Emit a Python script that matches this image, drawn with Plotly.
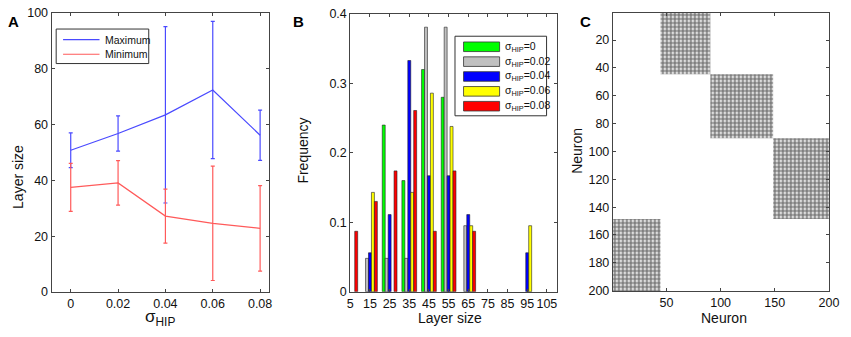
import plotly.graph_objects as go

# ---------------- Data ----------------
# Panel A: layer size vs sigma_HIP
sigma_hip = [0, 0.02, 0.04, 0.06, 0.08]
sigma_labels = ["0", "0.02", "0.04", "0.06", "0.08"]
max_mean = [50.8, 56.8, 63.5, 72.4, 56.2]
max_err = [6.2, 6.3, 31.6, 24.6, 9.0]
min_mean = [37.5, 39.1, 27.2, 24.6, 22.8]
min_err = [8.6, 8.0, 9.7, 20.5, 15.3]

# Panel B: frequency histogram of layer sizes
layer_bins = [5, 15, 25, 35, 45, 55, 65, 75, 85, 95, 105]
freq_s000 = [0, 0, 0.24, 0.16, 0.32, 0.28, 0, 0, 0, 0, 0]
freq_s002 = [0, 0.048, 0.048, 0.048, 0.381, 0.381, 0.095, 0, 0, 0, 0]
freq_s004 = [0, 0.056, 0.111, 0.333, 0.167, 0.167, 0.111, 0, 0, 0.056, 0]
freq_s006 = [0, 0.143, 0, 0.143, 0.286, 0.238, 0.095, 0, 0, 0.095, 0]
freq_s008 = [0.087, 0.130, 0.174, 0.261, 0.087, 0.174, 0.087, 0, 0, 0, 0]
series_names = ["0", "0.02", "0.04", "0.06", "0.08"]
series_colors = ["#00ff00", "#c0c0c0", "#0000ff", "#ffff00", "#ff0000"]

# Panel C: connectivity blocks (layer sizes, each layer projects to next)
layer_sizes = [44, 46, 58, 52]

# ---------------- Helpers ----------------
W, H = 851, 337
def px(x):
    return x / W
def py(y):
    return 1 - y / H

FONT = "Liberation Sans, Arial, sans-serif"
AXC = "#444444"
BLUE = "#4a4aff"
RED = "#ff5a5a"
TICK = 12.5
TITLE = 14

fig = go.Figure()

# Panel A traces
fig.add_trace(go.Scatter(
    x=sigma_hip, y=max_mean, mode="lines", name="Maximum",
    line=dict(color=BLUE, width=1.2),
    error_y=dict(type="data", array=max_err, color=BLUE, thickness=1.2, width=2),
    xaxis="x", yaxis="y", showlegend=False, hoverinfo="skip"))
fig.add_trace(go.Scatter(
    x=sigma_hip, y=min_mean, mode="lines", name="Minimum",
    line=dict(color=RED, width=1.2),
    error_y=dict(type="data", array=min_err, color=RED, thickness=1.2, width=2),
    xaxis="x", yaxis="y", showlegend=False, hoverinfo="skip"))

# Panel B traces (zero-height bars are not drawn)
for vals, nm, col in zip([freq_s000, freq_s002, freq_s004, freq_s006, freq_s008],
                         series_names, series_colors):
    fig.add_trace(go.Bar(
        x=layer_bins, y=[v if v > 0 else None for v in vals], name=nm,
        marker=dict(color=col, line=dict(color="#222222", width=0.6)),
        xaxis="x2", yaxis="y2", showlegend=False, hoverinfo="skip"))

# Panel C traces
edges = [0.5]
for s in layer_sizes:
    edges.append(edges[-1] + s)
n_layers = len(layer_sizes)
for k in range(n_layers):
    r0, r1 = edges[k], edges[k + 1]
    j = (k + 1) % n_layers
    c0, c1 = edges[j], edges[j + 1]
    fig.add_trace(go.Scatter(
        x=[c0, c1, c1, c0, c0], y=[r0, r0, r1, r1, r0], mode="lines",
        fill="toself", line=dict(width=0, color="rgba(0,0,0,0)"),
        fillcolor="white",
        fillpattern=dict(shape=".", fgcolor="black", bgcolor="white", size=4, solidity=0.7),
        xaxis="x3", yaxis="y3", showlegend=False, hoverinfo="skip"))

axis_common = dict(showline=True, linecolor=AXC, linewidth=1, mirror="ticks",
                   ticks="inside", ticklen=3, tickcolor=AXC, showgrid=False, zeroline=False,
                   tickangle=0, ticklabeloverflow="allow",
                   tickfont=dict(size=TICK, color="#111111", family=FONT))

fig.update_layout(
    width=W, height=H, margin=dict(l=0, r=0, t=0, b=0),
    paper_bgcolor="white", plot_bgcolor="white",
    font=dict(family=FONT, color="#111111"),
    barmode="group", bargap=0.25, bargroupgap=0,
    xaxis=dict(domain=[px(49.3), px(270)], range=[-0.0081, 0.0837],
               tickvals=sigma_hip, ticktext=sigma_labels, anchor="y", **axis_common),
    yaxis=dict(domain=[py(297.3), py(6.3)], range=[0, 100], tickvals=[0, 20, 40, 60, 80, 100],
               anchor="x", **axis_common),
    xaxis2=dict(domain=[px(352.7), px(562.3)], range=[5, 110], tickvals=layer_bins, anchor="y2",
                **axis_common),
    yaxis2=dict(domain=[py(297), py(7.3)], range=[0, 0.4], tickvals=[0, 0.1, 0.2, 0.3, 0.4],
                anchor="x2", **axis_common),
    xaxis3=dict(domain=[px(619.3), px(839.3)], range=[0.5, 200.5], tickvals=[50, 100, 150, 200],
                anchor="y3", **axis_common),
    yaxis3=dict(domain=[py(296.7), py(6.2)], range=[200.5, 0.5],
                tickvals=[20, 40, 60, 80, 100, 120, 140, 160, 180, 200],
                anchor="x3", **axis_common),
)

shapes = []
annotations = []

def label(text, x, y, size, angle=0, anchor="center"):
    annotations.append(dict(text=text, x=px(x), y=py(y), xref="paper", yref="paper",
                            xanchor=anchor, yanchor="middle", showarrow=False, textangle=angle,
                            font=dict(size=size, family=FONT, color="#111111")))

# Axis titles
label("σ<sub>HIP</sub>", 159, 324, 17)
label("Layer size", 14.5, 177, TITLE, angle=-90)
label("Layer size", 454, 324, TITLE)
label("Frequency", 304.5, 150, TITLE, angle=-90)
label("Neuron", 732, 324.5, TITLE)
label("Neuron", 583, 150, TITLE, angle=-90)

# Panel letters
for letter, x in [("A", 3), ("B", 292), ("C", 584)]:
    annotations.append(dict(text="<b>%s</b>" % letter, x=px(x), y=py(4), xref="paper", yref="paper",
                            xanchor="left", yanchor="top", showarrow=False,
                            font=dict(size=15, family=FONT, color="black")))

# Legend A
shapes.append(dict(type="rect", xref="paper", yref="paper", x0=px(54), x1=px(148), y0=py(59), y1=py(23),
                   line=dict(color="#333333", width=1), fillcolor="white", layer="above"))
for yy, nm, col in [(34, "Maximum", BLUE), (49.3, "Minimum", RED)]:
    shapes.append(dict(type="line", xref="paper", yref="paper", x0=px(61), x1=px(98), y0=py(yy), y1=py(yy),
                       line=dict(color=col, width=1.2), layer="above"))
    label(nm, 102, yy, 10.5, anchor="left")

# Legend B
shapes.append(dict(type="rect", xref="paper", yref="paper", x0=px(459), x1=px(552), y0=py(113.5), y1=py(30.5),
                   line=dict(color="#333333", width=1), fillcolor="white", layer="above"))
for i, (nm, col) in enumerate(zip(series_names, series_colors)):
    yc = 41.5 + i * 15.5
    shapes.append(dict(type="rect", xref="paper", yref="paper", x0=px(467.7), x1=px(504.3),
                       y0=py(yc + 5), y1=py(yc - 5), line=dict(color="#333333", width=0.8),
                       fillcolor=col, layer="above"))
    label("σ<sub>HIP</sub>=" + nm, 508, yc, 10.5, anchor="left")

fig.update_layout(shapes=shapes, annotations=annotations)
fig.write_html("out.html", config={"displayModeBar": False},
               post_script="document.body.style.margin='0';document.body.style.overflow='hidden';")
